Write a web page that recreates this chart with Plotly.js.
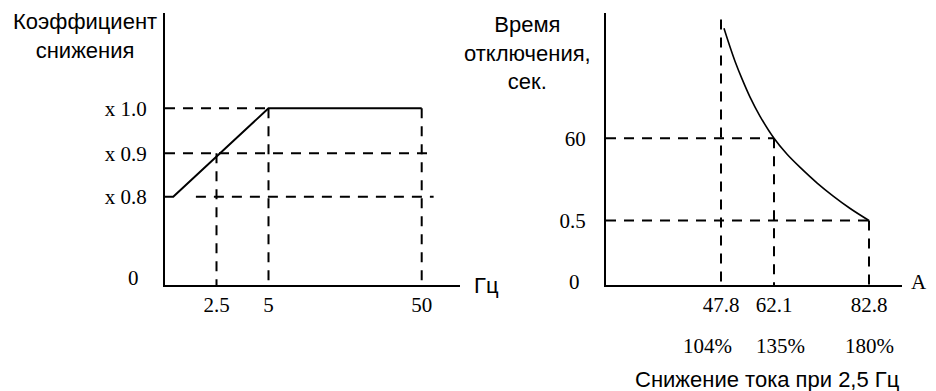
<!DOCTYPE html>
<html><head><meta charset="utf-8">
<script src="https://cdn.plot.ly/plotly-3.0.1.min.js"></script>
<style>html,body{margin:0;padding:0;background:#fff}#chart{width:936px;height:391px}</style>
</head><body><div id="chart"></div>
<script>
// ---------- data: left panel (derating factor vs frequency) ----------
const freqHz = [0, 0.4, 5, 50];
const derating = [0.8, 0.8, 1.0, 1.0];
const freqTicks = [2.5, 5, 50];
const freqTickText = ['2.5', '5', '50'];
const deratingTicks = [0.8, 0.9, 1.0];
const deratingTickText = ['x 0.8', 'x 0.9', 'x 1.0'];
// dashed guides
const guideFreqV = [2.5, 5, 50];
const guideFreqVTop = [0.9, 1.0, 1.0];
const guideCoefH = [1.0, 0.9, 0.8];
const guideCoefHFrom = [0, 0, 1.5];
const guideCoefHTo = [5, 53.5, 53.5];

// ---------- data: right panel (trip time vs current) ----------
const currentA = [48.6, 50.0, 51.6, 53.5, 55.6, 58.3, 62.1, 64.9, 67.8, 71.5, 75.0, 78.7, 82.8];
const tripTimeS = [139.6, 128, 115.6, 102.8, 90, 76.1, 60, 48.6, 38.9, 27.6, 18.2, 9.2, 0.5];
const currentTicks = [47.8, 62.1, 82.8];
const currentTickText = ['47.8', '62.1', '82.8'];
const currentPct = ['104%', '135%', '180%'];
const timeTicks = [0.5, 60];
const timeTickText = ['0.5', '60'];
const guideAmpV = [47.8, 62.1, 82.8];
const guideAmpVTop = [146, 60, 0.5];
const guideTimeH = [60, 0.5];
const guideTimeHTo = [62.1, 82.8];

// ---------- schematic (broken) scales: value -> axis units ----------
function piecewise(knots, out) {
  return v => {
    let i = knots.length - 2;
    if (v <= knots[0]) i = 0;
    else for (let k = 0; k < knots.length - 1; k++) { if (v <= knots[k + 1]) { i = k; break; } }
    const t = (v - knots[i]) / (knots[i + 1] - knots[i]);
    return out[i] + t * (out[i + 1] - out[i]);
  };
}
const SX1 = piecewise([0, 2.5, 5, 50], [165, 216.5, 268.5, 421.7]);
const SY1 = piecewise([0, 0.8, 0.9, 1.0], [285, 196.7, 153.3, 108.3]);
const SX2 = piecewise([0, 47.8, 62.1, 82.8], [606, 721, 774, 869]);
const SY2 = piecewise([0, 0.5, 60], [285, 220.5, 138.3]);

const W = 936, H = 391;
const serif = 'Liberation Serif, Times New Roman, serif';
const sans = 'Liberation Sans, Arial, sans-serif';
const black = '#000';
const dashStyle = {color: black, width: 2, dash: '10px,8px'};

const traces = [];
function guide(xs, ys, xa, ya) {
  traces.push({x: xs, y: ys, xaxis: xa, yaxis: ya, mode: 'lines', line: dashStyle, hoverinfo: 'skip'});
}
// left guides
guideCoefH.forEach((c, i) => guide([SX1(guideCoefHFrom[i]), SX1(guideCoefHTo[i])], [SY1(c), SY1(c)], 'x', 'y'));
guideFreqV.forEach((f, i) => guide([SX1(f), SX1(f)], [SY1(guideFreqVTop[i]), SY1(0)], 'x', 'y'));
// right guides
guideTimeH.forEach((t, i) => guide([SX2(0), SX2(guideTimeHTo[i])], [SY2(t), SY2(t)], 'x2', 'y2'));
guideAmpV.forEach((a, i) => guide([SX2(a), SX2(a)], [SY2(guideAmpVTop[i]), SY2(0)], 'x2', 'y2'));

// main curves
traces.push({x: freqHz.map(SX1), y: derating.map(SY1), xaxis: 'x', yaxis: 'y', mode: 'lines',
  line: {color: black, width: 2}});
traces.push({x: currentA.map(SX2), y: tripTimeS.map(SY2), xaxis: 'x2', yaxis: 'y2', mode: 'lines',
  line: {color: black, width: 1.6, shape: 'spline', smoothing: 1}});

const axisBase = {showline: true, linewidth: 2, linecolor: black, showgrid: false, zeroline: false,
  ticks: '', fixedrange: true, tickfont: {family: serif, size: 21, color: black}};

function ann(text, px, py, font, extra) {
  return Object.assign({text, x: px / W, y: 1 - py / H, xref: 'paper', yref: 'paper',
    showarrow: false, xanchor: 'center', yanchor: 'middle', font}, extra || {});
}
const fSans = {family: sans, size: 22, color: black};
const fSerif = {family: serif, size: 21, color: black};

const annotations = [
  ann('Коэффициент<br>снижения', 85, 36, fSans),
  ann('Время<br>отключения,<br>сек.', 527, 53, fSans),
  ann('Снижение тока при 2,5 Гц', 767, 379, fSans),
  ann('Гц', 486, 285, fSans),
  ann('A', 919, 282, fSerif),
  ann('0', 133, 278, fSerif),
  ann('0', 574, 281.5, fSerif)
];
const pctShift = [-14, 6, 0];
currentTicks.forEach((a, i) => annotations.push({text: currentPct[i], x: SX2(a), xref: 'x2', xshift: pctShift[i],
  y: 1 - 345.5 / H, yref: 'paper', showarrow: false, xanchor: 'center', yanchor: 'middle', font: fSerif}));

const layout = {
  width: W, height: H, margin: {l: 0, r: 0, t: 0, b: 0},
  paper_bgcolor: '#fff', plot_bgcolor: '#fff', showlegend: false,
  xaxis: Object.assign({}, axisBase, {domain: [165 / W, 460 / W], range: [165, 460], anchor: 'y',
    tickvals: freqTicks.map(SX1), ticktext: freqTickText}),
  yaxis: Object.assign({}, axisBase, {domain: [1 - 285 / H, 1 - 13 / H], range: [285, 13], anchor: 'x',
    tickvals: deratingTicks.map(SY1), ticktext: deratingTickText, ticklabelstandoff: 12}),
  xaxis2: Object.assign({}, axisBase, {domain: [606 / W, 902 / W], range: [606, 902], anchor: 'y2',
    tickvals: currentTicks.map(SX2), ticktext: currentTickText}),
  yaxis2: Object.assign({}, axisBase, {domain: [1 - 285 / H, 1 - 13 / H], range: [285, 13], anchor: 'x2',
    tickvals: timeTicks.map(SY2), ticktext: timeTickText, ticklabelstandoff: 14}),
  annotations
};
Plotly.newPlot('chart', traces, layout, {staticPlot: true, displayModeBar: false});
</script></body></html>
